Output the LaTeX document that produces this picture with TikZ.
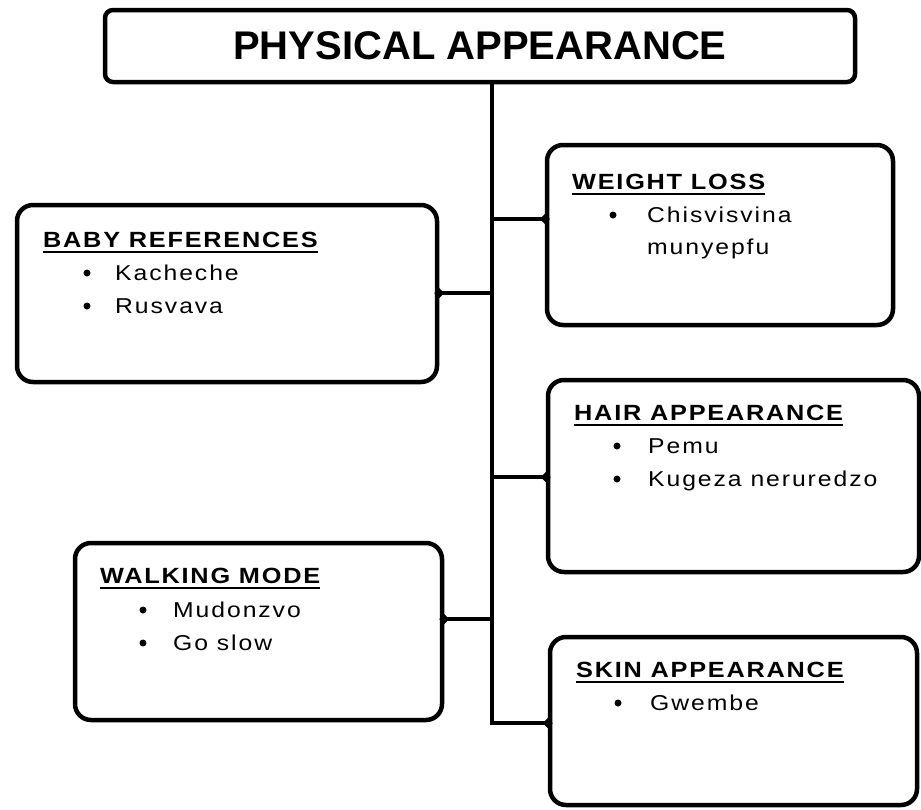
\documentclass[tikz,border=0pt]{standalone}
\usepackage{fontspec}
\setmainfont{Liberation Sans}
\newfontfamily\headfont[LetterSpace=8,FakeStretch=1.15]{Liberation Sans}
\newfontfamily\itemfont[LetterSpace=9,FakeStretch=1.15]{Liberation Sans}
\usetikzlibrary{arrows.meta}
\tikzset{
  box/.style={draw, line width=4.5pt, rounded corners=16pt, inner sep=0pt},
  titlebox/.style={draw, line width=4.5pt, rounded corners=8pt, inner sep=0pt,
    minimum width=750pt, minimum height=72pt,
    font=\bfseries\fontsize{40}{48}\selectfont},
  hd/.style={inner sep=0pt, anchor=base west, font=\headfont\bfseries\fontsize{22}{26}\selectfont},
  it/.style={inner sep=0pt, anchor=base west, font=\itemfont\fontsize{21.5}{25}\selectfont},
  bul/.style={circle, fill, inner sep=0pt, minimum size=7pt},
  ul/.style={line width=2pt},
  conn/.style={line width=4pt},
  knob/.style={line width=4pt, -{Diamond[length=10pt,width=10pt]}, shorten >=-5pt}
}
\begin{document}
\begin{tikzpicture}[x=1pt,y=-1pt]
\useasboundingbox (0,0) rectangle (921,809);
% boxes
\node[titlebox] (title) at (480,46) {PHYSICAL APPEARANCE};
\node[box, minimum width=346pt, minimum height=180pt] (weight) at (720,235) {};
\node[box, minimum width=420pt, minimum height=177pt] (baby) at (227,293.5) {};
\node[box, minimum width=371pt, minimum height=192pt] (hair) at (733.5,476) {};
\node[box, minimum width=367pt, minimum height=177pt] (walk) at (258.5,631.5) {};
\node[box, minimum width=367pt, minimum height=168pt] (skin) at (733.5,721) {};
% trunk and connectors
\coordinate (tb) at (492,723);
\coordinate (cw) at (0,219);
\coordinate (cb) at (0,293);
\coordinate (ch) at (0,477);
\coordinate (ck) at (0,619);
\draw[conn, line join=miter] (title.south -| tb) -- (tb) -- (tb -| skin.west);
\draw[knob] (tb |- cw) -- (weight.west |- cw);
\draw[knob] (tb |- cb) -- (baby.east |- cb);
\draw[knob] (tb |- ch) -- (hair.west |- ch);
\draw[knob] (tb |- ck) -- (walk.east |- ck);
\draw[knob] ([xshift=-10pt]tb -| skin.west) -- (tb -| skin.west);
% weight loss
\node[hd] (wh) at (572,189) {WEIGHT LOSS};
\draw[ul] ([yshift=-5pt]wh.base west) -- ([yshift=-5pt]wh.base east);
\node[bul] (wb1) at (613,215) {};
\node[it] (w1) at (647,222) {Chisvisvina};
\node[it] (w2) at (647,254) {munyepfu};
% baby references
\node[hd] (bh) at (43,247) {BABY REFERENCES};
\draw[ul] ([yshift=-5pt]bh.base west) -- ([yshift=-5pt]bh.base east);
\node[bul] (bb1) at (87,273) {};
\node[it] (b1) at (115,280) {Kacheche};
\node[bul] (bb2) at (87,306) {};
\node[it] (b2) at (115,313) {Rusvava};
% hair appearance
\node[hd] (hh) at (574,420) {HAIR APPEARANCE};
\draw[ul] ([yshift=-5pt]hh.base west) -- ([yshift=-5pt]hh.base east);
\node[bul] (hb1) at (617,446) {};
\node[it] (h1) at (648,453) {Pemu};
\node[bul] (hb2) at (617,479) {};
\node[it] (h2) at (648,486) {Kugeza neruredzo};
% walking mode
\node[hd] (kh) at (100,583) {WALKING MODE};
\draw[ul] ([yshift=-5pt]kh.base west) -- ([yshift=-5pt]kh.base east);
\node[bul] (kb1) at (143,610) {};
\node[it] (k1) at (173,617) {Mudonzvo};
\node[bul] (kb2) at (143,643) {};
\node[it] (k2) at (173,650) {Go slow};
% skin appearance
\node[hd] (sh) at (576,677) {SKIN APPEARANCE};
\draw[ul] ([yshift=-5pt]sh.base west) -- ([yshift=-5pt]sh.base east);
\node[bul] (sb1) at (618,703) {};
\node[it] (s1) at (650,710) {Gwembe};
\end{tikzpicture}
\end{document}
